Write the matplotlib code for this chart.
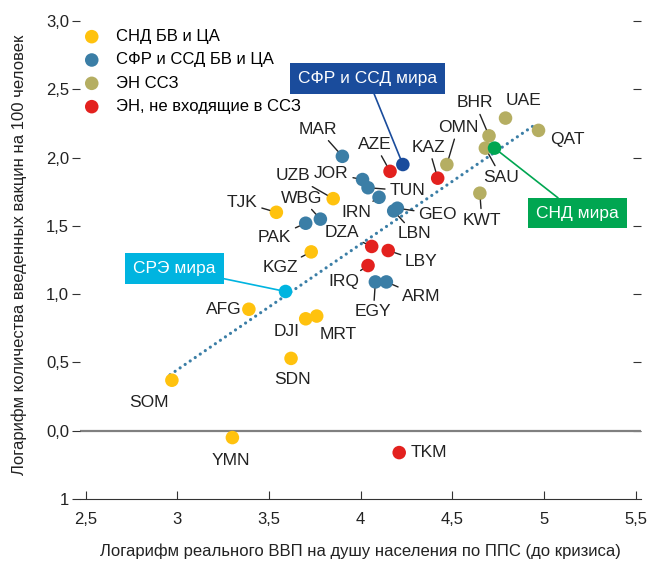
import matplotlib
matplotlib.use("Agg")
import matplotlib.pyplot as plt

plt.rcParams['font.family'] = ['Liberation Sans Narrow', 'Liberation Sans', 'DejaVu Sans']

# --- данные ---
groups = ["СНД БВ и ЦА", "СФР и ССД БВ и ЦА", "ЭН ССЗ", "ЭН, не входящие в ССЗ"]
group_colors = ["#FFC20E", "#3B7EA6", "#B5AE62", "#E3211E"]

cis_codes = ["SOM", "YMN", "AFG", "DJI", "MRT", "SDN", "KGZ", "TJK", "UZB"]
cis_x = [2.97, 3.30, 3.39, 3.70, 3.76, 3.62, 3.73, 3.54, 3.85]
cis_y = [0.37, -0.05, 0.89, 0.82, 0.84, 0.53, 1.31, 1.60, 1.70]

em_codes = ["WBG", "PAK", "MAR", "JOR", "TUN", "IRN", "GEO", "LBN", "EGY", "ARM"]
em_x = [3.78, 3.70, 3.90, 4.01, 4.04, 4.10, 4.20, 4.18, 4.08, 4.14]
em_y = [1.55, 1.52, 2.01, 1.84, 1.78, 1.71, 1.63, 1.61, 1.09, 1.09]

gcc_codes = ["BHR", "SAU", "UAE", "QAT", "KWT", "OMN"]
gcc_x = [4.70, 4.68, 4.79, 4.97, 4.65, 4.47]
gcc_y = [2.16, 2.07, 2.29, 2.20, 1.74, 1.95]

ex_codes = ["AZE", "KAZ", "DZA", "LBY", "IRQ", "TKM"]
ex_x = [4.16, 4.42, 4.06, 4.15, 4.04, 4.21]
ex_y = [1.90, 1.85, 1.35, 1.32, 1.21, -0.16]

world_names = ["СФР и ССД мира", "СНД мира", "СРЭ мира"]
world_x = [4.23, 4.73, 3.59]
world_y = [1.95, 2.07, 1.02]
world_colors = ["#1A4C9C", "#00A651", "#00B4E0"]

trend_x = [2.96, 4.96]
trend_y = [0.41, 2.25]

yticks = [3.0, 2.5, 2.0, 1.5, 1.0, 0.5, 0.0, -0.5]
ytick_labels = ["3,0", "2,5", "2,0", "1,5", "1,0", "0,5", "0,0", "1"]
xticks = [2.5, 3.0, 3.5, 4.0, 4.5, 5.0, 5.5]
xtick_labels = ["2,5", "3", "3,5", "4", "4,5", "5", "5,5"]

# смещения подписей (пиксели) и наличие выноски
label_pos = {
    "SOM": (-23, -22, False), "YMN": (-2, -23, False), "AFG": (-25, 0, False),
    "DJI": (-19, -13, False), "MRT": (21, -18, False), "SDN": (1, -21, False),
    "KGZ": (-31, -16, True), "TJK": (-34, 10, True), "UZB": (-40, 23, True),
    "WBG": (-19, 21, True), "PAK": (-31, -14, True), "MAR": (-24, 27, True),
    "JOR": (-31, 6, True), "TUN": (39, -3, True), "IRN": (-23, -15, True),
    "GEO": (40, -6, True), "LBN": (21, -23, True), "EGY": (-2, -30, True),
    "ARM": (35, -15, True), "BHR": (-14, 33, True), "SAU": (16, -29, True),
    "UAE": (18, 18, False), "QAT": (29, -9, False), "KWT": (2, -27, True),
    "OMN": (11, 37, True), "AZE": (-15, 27, True), "KAZ": (-9, 31, True),
    "DZA": (-30, 14, True), "LBY": (33, -11, True), "IRQ": (-24, -16, True),
    "TKM": (30, 0, False),
}
world_pos = [(-35, 86), (83, -65), (-111, 23)]

fig = plt.figure(figsize=(6.47, 5.69), dpi=100)
ax = fig.add_axes([0.124, 0.123, 0.867, 0.859])
ax.set_xlim(2.47, 5.53)
ax.set_ylim(-0.5, 3.08)

ax.axhline(0, color="#808080", lw=1.6, zorder=1)
ax.plot(trend_x, trend_y, color="#3B7EA6", lw=2.3, linestyle=(0, (0.01, 1.9)),
        dash_capstyle="round", zorder=2)

all_sets = [(cis_codes, cis_x, cis_y), (em_codes, em_x, em_y),
            (gcc_codes, gcc_x, gcc_y), (ex_codes, ex_x, ex_y)]
for (codes, xs, ys), name, col in zip(all_sets, groups, group_colors):
    ax.scatter(xs, ys, s=95, color=col, edgecolors="none", zorder=3, label=name)
    for c, x, y in zip(codes, xs, ys):
        dx, dy, lead = label_pos[c]
        ap = dict(arrowstyle="-", color="#222222", lw=1, shrinkA=1, shrinkB=5) if lead else None
        ax.annotate(c, (x, y), xytext=(dx, dy), textcoords="offset pixels",
                    ha="center", va="center", fontsize=12.5, color="#222222",
                    arrowprops=ap, zorder=4)

ax.scatter(world_x, world_y, s=95, color=world_colors, edgecolors="none", zorder=5)
for name, x, y, col, (dx, dy) in zip(world_names, world_x, world_y, world_colors, world_pos):
    ax.annotate(name, (x, y), xytext=(dx, dy), textcoords="offset pixels",
                ha="center", va="center", fontsize=12.5, color="white",
                bbox=dict(boxstyle="square,pad=0.45", fc=col, ec="none"),
                arrowprops=dict(arrowstyle="-", color=col, lw=1.2, shrinkA=0, shrinkB=3),
                zorder=6)

for s in ["left", "top", "right"]:
    ax.spines[s].set_visible(False)
ax.spines["bottom"].set_position(("data", -0.5))
ax.spines["bottom"].set_color("#333333")
ax.set_xticks(xticks, xtick_labels)
ax.set_yticks(yticks, ytick_labels)
ax.tick_params(axis="x", direction="in", length=6, color="#333333",
               labelsize=12, pad=9, labelcolor="#222222")
ax.tick_params(axis="y", direction="out", length=6, color="#333333",
               labelsize=12, pad=2, labelcolor="#222222")

# риски справа
sec = ax.secondary_yaxis("right")
sec.spines["right"].set_visible(False)
sec.set_yticks(yticks[:-1], [""] * (len(yticks) - 1))
sec.tick_params(direction="in", length=6, color="#333333")

ax.set_xlabel("Логарифм реального ВВП на душу населения по ППС (до кризиса)",
              fontsize=12, color="#222222", labelpad=12)
ax.set_ylabel("Логарифм количества введенных вакцин на 100 человек",
              fontsize=12, color="#222222", labelpad=14)

ax.legend(loc="upper left", bbox_to_anchor=(-0.027, 0.982), frameon=False,
          fontsize=12, handletextpad=0.45, labelspacing=0.5, borderaxespad=0.2,
          markerscale=1.0)

fig.savefig("out.png", dpi=100)
